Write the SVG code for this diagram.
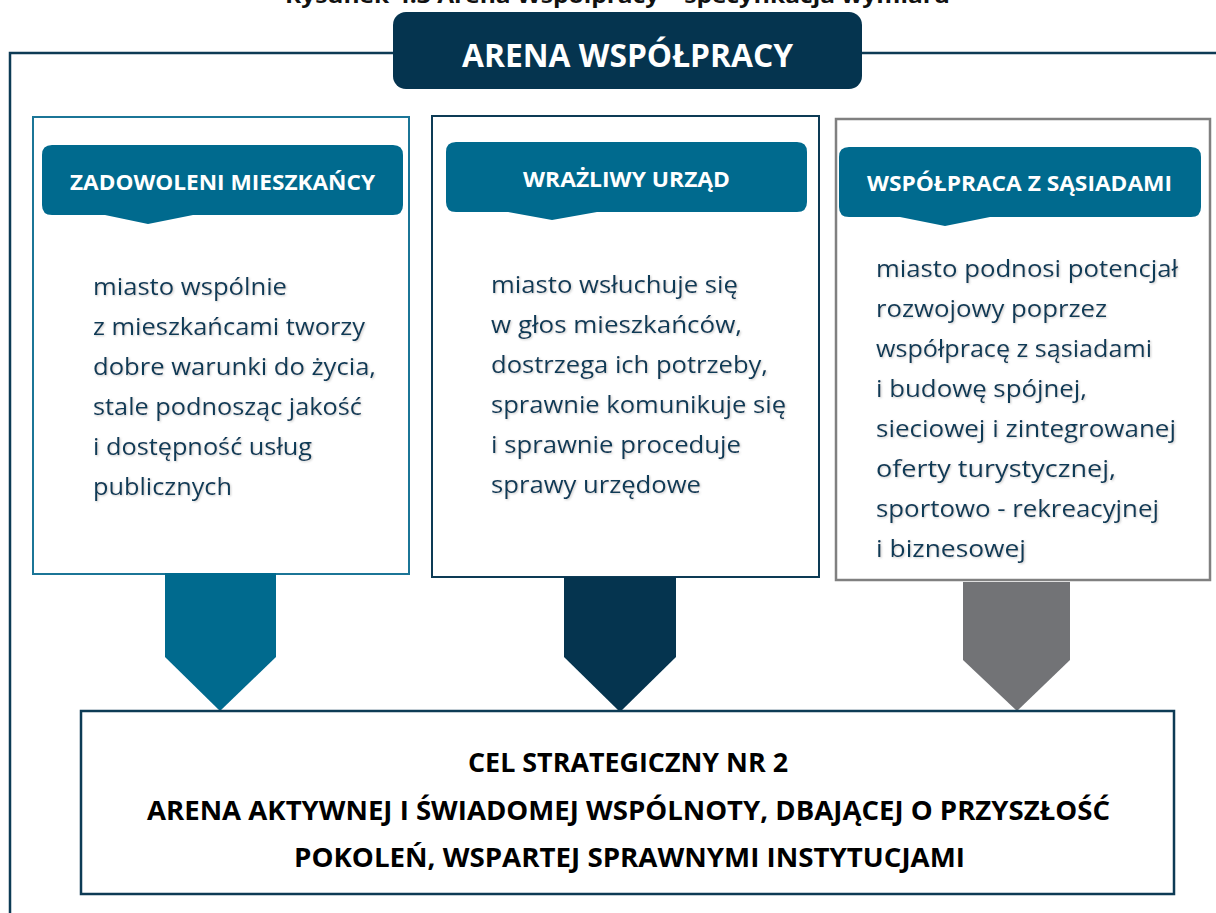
<svg xmlns="http://www.w3.org/2000/svg" width="1216" height="913" viewBox="0 0 1216 913">
<defs>
<style>
.caption{font-family:"Open Sans","Liberation Sans",sans-serif;font-weight:bold;font-size:22px;fill:#111;}
.title{font-family:"Open Sans","Liberation Sans",sans-serif;font-weight:bold;font-size:33px;fill:#fff;}
.hdr{font-family:"Open Sans","Liberation Sans",sans-serif;font-weight:bold;font-size:22px;fill:#fff;}
.body{font-family:"Open Sans","Liberation Sans",sans-serif;font-size:24.5px;fill:#0f3a57;filter:url(#sh);}
.goal{font-family:"Open Sans","Liberation Sans",sans-serif;font-weight:bold;font-size:26px;fill:#000;}
.frame{fill:none;stroke:#0d3b55;stroke-width:2.5;}
.hbox{fill:#006a8e;}
</style>
<filter id="sh" x="-5%" y="-30%" width="110%" height="160%">
<feDropShadow dx="1" dy="1" stdDeviation="1" flood-color="#888" flood-opacity="0.45"/>
</filter>
</defs>
<rect width="1216" height="913" fill="#fff"/>
<text class="caption" x="285" y="3" textLength="665" lengthAdjust="spacingAndGlyphs">Rysunek 4.3 Arena Współpracy – specyfikacja wymiaru</text>

<g id="frame">
<path class="frame" d="M10,913 V53 H395 M860,53 H1216"/>
</g>

<g id="title">
<rect x="393" y="12" width="469" height="77" rx="13" fill="#05344f"/>
<text class="title" x="627.5" y="67" text-anchor="middle" textLength="331" lengthAdjust="spacingAndGlyphs">ARENA WSPÓŁPRACY</text>
</g>

<g id="box1">
<rect x="33" y="117" width="376" height="457" fill="#fff" stroke="#1b7597" stroke-width="2"/>
<path class="hbox" d="M52,145 H393 Q403,145 403,155 V205 Q403,215 393,215 H193 L148,224 L105,215 H52 Q42,215 42,205 V155 Q42,145 52,145 Z"/>
<text class="hdr" x="222.5" y="190" text-anchor="middle" textLength="305" lengthAdjust="spacingAndGlyphs">ZADOWOLENI MIESZKAŃCY</text>
<text class="body" x="93" y="295" textLength="194" lengthAdjust="spacingAndGlyphs">miasto wspólnie</text>
<text class="body" x="93" y="335" textLength="272" lengthAdjust="spacingAndGlyphs">z mieszkańcami tworzy</text>
<text class="body" x="93" y="375" textLength="283" lengthAdjust="spacingAndGlyphs">dobre warunki do życia,</text>
<text class="body" x="93" y="415" textLength="269" lengthAdjust="spacingAndGlyphs">stale podnosząc jakość</text>
<text class="body" x="93" y="455" textLength="219" lengthAdjust="spacingAndGlyphs">i dostępność usług</text>
<text class="body" x="93" y="495" textLength="139" lengthAdjust="spacingAndGlyphs">publicznych</text>
</g>

<g id="box2">
<rect x="432" y="116" width="387" height="461" fill="#fff" stroke="#0d3b55" stroke-width="2"/>
<path class="hbox" d="M456,142 H797 Q807,142 807,152 V202 Q807,212 797,212 H597 L552,220 L508,212 H456 Q446,212 446,202 V152 Q446,142 456,142 Z"/>
<text class="hdr" x="626.5" y="187" text-anchor="middle" textLength="207" lengthAdjust="spacingAndGlyphs">WRAŻLIWY URZĄD</text>
<text class="body" x="491" y="293" textLength="247" lengthAdjust="spacingAndGlyphs">miasto wsłuchuje się</text>
<text class="body" x="491" y="333" textLength="251" lengthAdjust="spacingAndGlyphs">w głos mieszkańców,</text>
<text class="body" x="491" y="373" textLength="277" lengthAdjust="spacingAndGlyphs">dostrzega ich potrzeby,</text>
<text class="body" x="491" y="413" textLength="295" lengthAdjust="spacingAndGlyphs">sprawnie komunikuje się</text>
<text class="body" x="491" y="453" textLength="250" lengthAdjust="spacingAndGlyphs">i sprawnie proceduje</text>
<text class="body" x="491" y="493" textLength="210" lengthAdjust="spacingAndGlyphs">sprawy urzędowe</text>
</g>

<g id="box3">
<rect x="836" y="119" width="374" height="461" fill="#fff" stroke="#808080" stroke-width="2.5"/>
<path class="hbox" d="M849,147 H1191 Q1201,147 1201,157 V207 Q1201,217 1191,217 H990 L945,226 L900,217 H849 Q839,217 839,207 V157 Q839,147 849,147 Z"/>
<text class="hdr" x="1019.5" y="191" text-anchor="middle" textLength="305" lengthAdjust="spacingAndGlyphs">WSPÓŁPRACA Z SĄSIADAMI</text>
<text class="body" x="876" y="277" textLength="302" lengthAdjust="spacingAndGlyphs">miasto podnosi potencjał</text>
<text class="body" x="876" y="317" textLength="231" lengthAdjust="spacingAndGlyphs">rozwojowy poprzez</text>
<text class="body" x="876" y="357" textLength="276" lengthAdjust="spacingAndGlyphs">współpracę z sąsiadami</text>
<text class="body" x="876" y="397" textLength="211" lengthAdjust="spacingAndGlyphs">i budowę spójnej,</text>
<text class="body" x="876" y="437" textLength="300" lengthAdjust="spacingAndGlyphs">sieciowej i zintegrowanej</text>
<text class="body" x="876" y="477" textLength="240" lengthAdjust="spacingAndGlyphs">oferty turystycznej,</text>
<text class="body" x="876" y="517" textLength="283" lengthAdjust="spacingAndGlyphs">sportowo - rekreacyjnej</text>
<text class="body" x="876" y="557" textLength="150" lengthAdjust="spacingAndGlyphs">i biznesowej</text>
</g>

<g id="connectors">
<polygon points="165,573 276,573 276,657 220,711 165,657" fill="#006a8e"/>
<polygon points="564,577 676,577 676,657 620,712 564,657" fill="#05344f"/>
<polygon points="963,582 1070,582 1070,660 1017,711 963,660" fill="#727376"/>
</g>

<g id="goal">
<rect x="81" y="711" width="1093" height="183" fill="#fff" stroke="#0d3b55" stroke-width="2.5"/>
<text class="goal" x="628" y="772" text-anchor="middle" textLength="320" lengthAdjust="spacingAndGlyphs">CEL STRATEGICZNY NR 2</text>
<text class="goal" x="628.5" y="820" text-anchor="middle" textLength="963" lengthAdjust="spacingAndGlyphs">ARENA AKTYWNEJ I ŚWIADOMEJ WSPÓLNOTY, DBAJĄCEJ O PRZYSZŁOŚĆ</text>
<text class="goal" x="629.5" y="867" text-anchor="middle" textLength="671" lengthAdjust="spacingAndGlyphs">POKOLEŃ, WSPARTEJ SPRAWNYMI INSTYTUCJAMI</text>
</g>
</svg>
